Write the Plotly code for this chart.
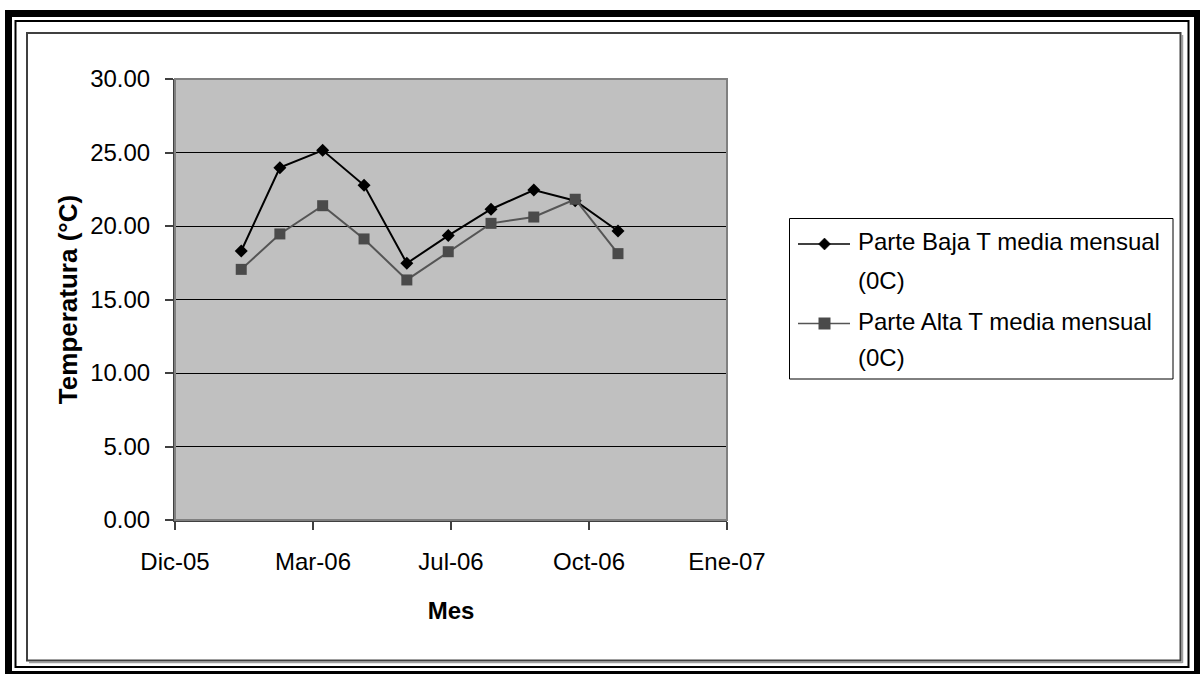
import plotly.graph_objects as go

# Monthly mean temperatures (end-of-month readings), 2006
months = ["2006-01-31", "2006-02-28", "2006-03-31", "2006-04-30", "2006-05-31",
          "2006-06-30", "2006-07-31", "2006-08-31", "2006-09-30", "2006-10-31"]
parte_baja = [18.30, 23.97, 25.15, 22.77, 17.46, 19.35, 21.14, 22.45, 21.72, 19.66]
parte_alta = [17.05, 19.46, 21.38, 19.12, 16.33, 18.25, 20.18, 20.61, 21.82, 18.12]

series_names = ["Parte Baja T media mensual (0C)", "Parte Alta T media mensual (0C)"]

# Date axis ticks (every 100 days)
x_tick_dates = ["2005-12-14", "2006-03-24", "2006-07-02", "2006-10-10", "2007-01-18"]
x_tick_text = ["Dic-05", "Mar-06", "Jul-06", "Oct-06", "Ene-07"]
y_ticks = [0, 5, 10, 15, 20, 25, 30]

FONT = "Liberation Sans, Arial, sans-serif"
FW, FH = 1200, 674
L, T, W, H = 175, 79, 552, 441   # plot area in pixels


def fx(px):
    return (px - L) / W


def fy(py):
    return (T + H - py) / H


fig = go.Figure()
fig.add_trace(go.Scatter(
    x=months, y=parte_baja, name=series_names[0], mode="lines+markers",
    line=dict(color="#000000", width=2),
    marker=dict(symbol="diamond", size=10, color="#000000"),
    showlegend=False,
))
fig.add_trace(go.Scatter(
    x=months, y=parte_alta, name=series_names[1], mode="lines+markers",
    line=dict(color="#555555", width=2),
    marker=dict(symbol="square", size=11, color="#4a4a4a"),
    showlegend=False,
))

shapes = []


def rect_fill(x0, y0, x1, y1, color):
    shapes.append(dict(type="rect", xref="paper", yref="paper",
                       x0=fx(x0), x1=fx(x1), y0=fy(y1), y1=fy(y0),
                       line=dict(width=0), fillcolor=color, layer="above"))


def rect_line(x0, y0, x1, y1, color, width, layer="above"):
    shapes.append(dict(type="rect", xref="paper", yref="paper",
                       x0=fx(x0), x1=fx(x1), y0=fy(y1), y1=fy(y0),
                       line=dict(color=color, width=width), fillcolor="rgba(0,0,0,0)",
                       layer=layer))


def seg(x0, y0, x1, y1, color, width):
    shapes.append(dict(type="line", xref="paper", yref="paper",
                       x0=fx(x0), x1=fx(x1), y0=fy(y0), y1=fy(y1),
                       line=dict(color=color, width=width), layer="above"))


# Outer double frame: thick band + thin line
rect_fill(5, 10, 1200, 17, "#000000")
rect_fill(5, 10, 12, 674, "#000000")
rect_fill(1194, 10, 1200, 674, "#000000")
rect_fill(5, 671, 1200, 674, "#000000")
rect_line(15.5, 21, 1188.5, 667, "#000000", 2)

# Chart area border with a soft shadow
seg(1182.5, 35, 1182.5, 663, "#a0a0a0", 1.5)
seg(29, 662.5, 1182.5, 662.5, "#a0a0a0", 1.5)
rect_line(27, 33, 1180.5, 660.5, "#404040", 2)

# Plot-area outline (top/right grey edge)
rect_line(L, T, L + W, T + H, "#808080", 2)

# Legend box and glyphs
rect_line(789.5, 218.5, 1173, 379, "#000000", 1)
seg(798, 244, 850, 244, "#000000", 1.5)
shapes.append(dict(type="path", xref="paper", yref="paper",
                   path="M {},{} L {},{} L {},{} L {},{} Z".format(
                       fx(818.5), fy(244), fx(824.5), fy(238), fx(830.5), fy(244), fx(824.5), fy(250)),
                   fillcolor="#000000", line=dict(color="#000000", width=0.5), layer="above"))
seg(798, 323.5, 850, 323.5, "#555555", 1.5)
rect_fill(818.5, 317.5, 830.5, 329.5, "#4a4a4a")

annotations = []
legend_lines = [("Parte Baja T media mensual", 241.5), ("(0C)", 280),
                ("Parte Alta T media mensual", 321), ("(0C)", 357)]
for txt, ypx in legend_lines:
    annotations.append(dict(text=txt, xref="paper", yref="paper", x=fx(856), y=fy(ypx),
                            xanchor="left", yanchor="middle", showarrow=False,
                            font=dict(family=FONT, size=24, color="#000000")))

fig.update_layout(
    width=FW, height=FH,
    margin=dict(l=L, r=FW - L - W, t=T, b=FH - T - H, pad=0),
    paper_bgcolor="#ffffff",
    plot_bgcolor="#c0c0c0",
    font=dict(family=FONT, size=24, color="#000000"),
    shapes=shapes,
    annotations=annotations,
    xaxis=dict(
        type="date",
        range=[x_tick_dates[0], x_tick_dates[-1]],
        tickmode="array", tickvals=x_tick_dates, ticktext=x_tick_text,
        showgrid=False, zeroline=False,
        showline=True, linecolor="#404040", linewidth=2,
        ticks="outside", ticklen=8, tickwidth=1.5, tickcolor="#404040",
        ticklabelstandoff=11,
        tickfont=dict(family=FONT, size=24, color="#000000"),
        title=dict(text="<b>Mes</b>", font=dict(family=FONT, size=24, color="#000000"),
                   standoff=28),
    ),
    yaxis=dict(
        range=[0, 30],
        tickmode="array", tickvals=y_ticks, tickformat=".2f",
        showgrid=True, gridcolor="#000000", gridwidth=1,
        zeroline=False,
        showline=True, linecolor="#404040", linewidth=2,
        ticks="outside", ticklen=8, tickwidth=1.5, tickcolor="#404040",
        ticklabelstandoff=10,
        tickfont=dict(family=FONT, size=24, color="#000000"),
        title=dict(text="<b>Temperatura (°C)</b>", font=dict(family=FONT, size=26, color="#000000"),
                   standoff=5),
    ),
)

fig.write_html("out.html")
